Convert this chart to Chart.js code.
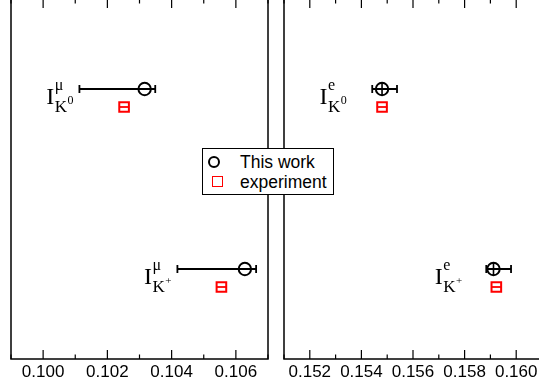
<!DOCTYPE html>
<html>
<head>
<meta charset="utf-8">
<script src="https://cdn.jsdelivr.net/npm/chart.js@4/dist/chart.umd.min.js"></script>
<style>
html, body { margin: 0; padding: 0; background: #fff; width: 539px; height: 390px; overflow: hidden; }
.panel { position: absolute; top: -10px; }
#muPanel { left: 0; }
#ePanel { left: 272px; }
#legend {
    position: absolute; left: 202px; top: 148px; width: 130px; height: 45px;
    border: 1px solid #000; background: #fff; z-index: 2;
    font: 17.5px "Liberation Sans", Arial, sans-serif; color: #000;
}
#legend .mk { position: absolute; box-sizing: border-box; }
#legend .circ { left: 5px; top: 7px; width: 12px; height: 12px; border: 2px solid #000; border-radius: 50%; }
#legend .sq { left: 9px; top: 27px; width: 11px; height: 11px; border: 1.8px solid #f00; }
#legend .txt { position: absolute; left: 37px; line-height: 20px; white-space: nowrap; }
</style>
</head>
<body>
<canvas id="muPanel" class="panel" width="280" height="400"></canvas>
<canvas id="ePanel" class="panel" width="280" height="400"></canvas>
<div id="legend">
    <span class="mk circ"></span><span class="txt" style="top:3px">This work</span>
    <span class="mk sq"></span><span class="txt" style="top:23px">experiment</span>
</div>
<script>
// ================= DATA =================
const categories = ["K0", "K+"];
const rows = [3, 1];               // row of each category on the y scale

// muon channel
const muThisWork = [0.10316, 0.10628];
const muErrLow   = [0.10113, 0.10418];
const muErrHigh  = [0.10349, 0.10663];
const muExp      = [0.10252, 0.10555];
const muExpErr   = [0.00015, 0.00015];
const muTicks    = [0.100, 0.102, 0.104, 0.106];

// electron channel
const eThisWork = [0.15480, 0.15912];
const eErrLow   = [0.15442, 0.15884];
const eErrHigh  = [0.15538, 0.15980];
const eExp      = [0.15480, 0.15923];
const eExpErr   = [0.00020, 0.00020];
const eTicks    = [0.152, 0.154, 0.156, 0.158, 0.160];

// where the I labels start (x value)
const muLabelX = [0.10010, 0.10314];
const eLabelX  = [0.15238, 0.15684];
const subSup   = ["0", "+"];

const SANS = '"Liberation Sans", Arial, sans-serif';
const SERIF = '"Liberation Serif", "Times New Roman", serif';

// ================= PLUGINS =================
const errorBars = {
    id: "errorBars",
    afterDatasetsDraw(chart){
        const ctx = chart.ctx, xs = chart.scales.x, ys = chart.scales.y;
        chart.data.datasets.forEach(ds => {
            if(!ds.xErr) return;
            ctx.save();
            ctx.strokeStyle = ds.borderColor;
            ctx.lineWidth = ds.errWidth;
            ds.data.forEach((p, i) => {
                const y = ys.getPixelForValue(p.y);
                const x1 = xs.getPixelForValue(ds.xErr[i][0]);
                const x2 = xs.getPixelForValue(ds.xErr[i][1]);
                ctx.beginPath();
                ctx.moveTo(x1, y); ctx.lineTo(x2, y);
                if(ds.cap){
                    ctx.moveTo(x1, y - ds.cap); ctx.lineTo(x1, y + ds.cap);
                    ctx.moveTo(x2, y - ds.cap); ctx.lineTo(x2, y + ds.cap);
                }
                ctx.stroke();
            });
            ctx.restore();
        });
    }
};

// frame with inward ticks on top and bottom
const frame = {
    id: "frame",
    afterDraw(chart){
        const ctx = chart.ctx, a = chart.chartArea, xs = chart.scales.x;
        ctx.save();
        ctx.strokeStyle = "#000";
        ctx.lineWidth = 1.5;
        ctx.strokeRect(a.left, a.top, a.right - a.left, a.bottom - a.top);
        ctx.lineWidth = 1.2;
        xs.ticks.forEach(t => {
            const x = xs.getPixelForValue(t.value);
            const len = t.label ? 9 : 4.5;
            ctx.beginPath();
            ctx.moveTo(x, a.bottom); ctx.lineTo(x, a.bottom - len);
            ctx.moveTo(x, a.top); ctx.lineTo(x, a.top + len);
            ctx.stroke();
        });
        ctx.restore();
    }
};

// I^{sup}_{K^{0,+}} labels
const labels = {
    id: "labels",
    afterDraw(chart){
        const opt = chart.options.plugins.labels;
        const ctx = chart.ctx, xs = chart.scales.x, ys = chart.scales.y;
        ctx.save();
        ctx.fillStyle = "#000";
        ctx.textBaseline = "alphabetic";
        ctx.textAlign = "left";
        opt.xs.forEach((xv, i) => {
            let x = xs.getPixelForValue(xv);
            const y = ys.getPixelForValue(rows[i]);
            ctx.font = "24px " + SERIF;
            ctx.fillText("I", x, y + 15);
            x += ctx.measureText("I").width + 0.5;
            ctx.font = "16px " + SERIF;
            ctx.fillText(opt.sup, x, y + 1);
            ctx.font = "17px " + SERIF;
            ctx.fillText("K", x, y + 23);
            const kx = x + ctx.measureText("K").width + 0.5;
            ctx.font = (subSup[i] === "+" ? "11px " : "12px ") + SERIF;
            ctx.fillText(subSup[i], kx, y + 14.5);
        });
        ctx.restore();
    }
};

// ================= PANELS =================
function makePanel(id, cfg){
    const ctx = document.getElementById(id).getContext("2d");
    const pts = (vals, off) => vals.map((v, i) => ({ x: v, y: rows[i] + off }));

    const datasets = [
        {
            label: "This work",
            data: pts(cfg.work, 0),
            pointStyle: "circle",
            pointRadius: 6.2,
            pointBorderWidth: 2,
            borderColor: "#000",
            backgroundColor: "transparent",
            xErr: cfg.errLow.map((lo, i) => [lo, cfg.errHigh[i]]),
            errWidth: 1.8,
            cap: 4
        },
        {
            label: "experiment",
            data: pts(cfg.exp, -0.2),
            pointStyle: "rect",
            pointRadius: 6.8,
            pointBorderWidth: 2,
            borderColor: "#f00",
            backgroundColor: "transparent",
            xErr: cfg.exp.map((v, i) => [v - cfg.expErr[i], v + cfg.expErr[i]]),
            errWidth: 1.8,
            cap: 0
        }
    ];
    if(cfg.crossed){
        datasets.push({
            label: "",
            data: pts(cfg.work, 0),
            pointStyle: "line",
            rotation: 90,
            pointRadius: 6.2,
            pointBorderWidth: 1.6,
            borderColor: "#000",
            backgroundColor: "transparent"
        });
    }

    return new Chart(ctx, {
        type: "scatter",
        data: { datasets },
        options: {
            responsive: false,
            animation: false,
            layout: { padding: cfg.padding },
            plugins: {
                legend: { display: false },
                tooltip: { enabled: false },
                labels: { xs: cfg.labelX, sup: cfg.sup }
            },
            scales: {
                x: {
                    type: "linear",
                    min: cfg.min,
                    max: cfg.max,
                    grid: { display: false, drawTicks: false },
                    border: { display: false },
                    ticks: {
                        stepSize: 0.001,
                        autoSkip: false,
                        maxRotation: 0,
                        padding: 3.5,
                        color: "#000",
                        font: { family: SANS, size: 17 },
                        callback: v => {
                            const m = Math.round(v * 1000);
                            return cfg.ticks.some(t => Math.round(t * 1000) === m) ? (m / 1000).toFixed(3) : "";
                        }
                    },
                    afterFit: s => { s.height = 31; s.paddingLeft = 0; s.paddingRight = 0; }
                },
                y: { display: false, min: 0, max: 4 }
            }
        },
        plugins: [errorBars, frame, labels]
    });
}

makePanel("muPanel", {
    work: muThisWork, errLow: muErrLow, errHigh: muErrHigh,
    exp: muExp, expErr: muExpErr, ticks: muTicks,
    min: 0.099, max: 0.107, labelX: muLabelX, sup: "μ",
    padding: { left: 11, right: 12, top: 9, bottom: 0 }
});

makePanel("ePanel", {
    work: eThisWork, errLow: eErrLow, errHigh: eErrHigh,
    exp: eExp, expErr: eExpErr, ticks: eTicks,
    min: 0.151, max: 0.161, labelX: eLabelX, sup: "e", crossed: true,
    padding: { left: 12, right: 10, top: 9, bottom: 0 }
});
</script>
</body>
</html>
